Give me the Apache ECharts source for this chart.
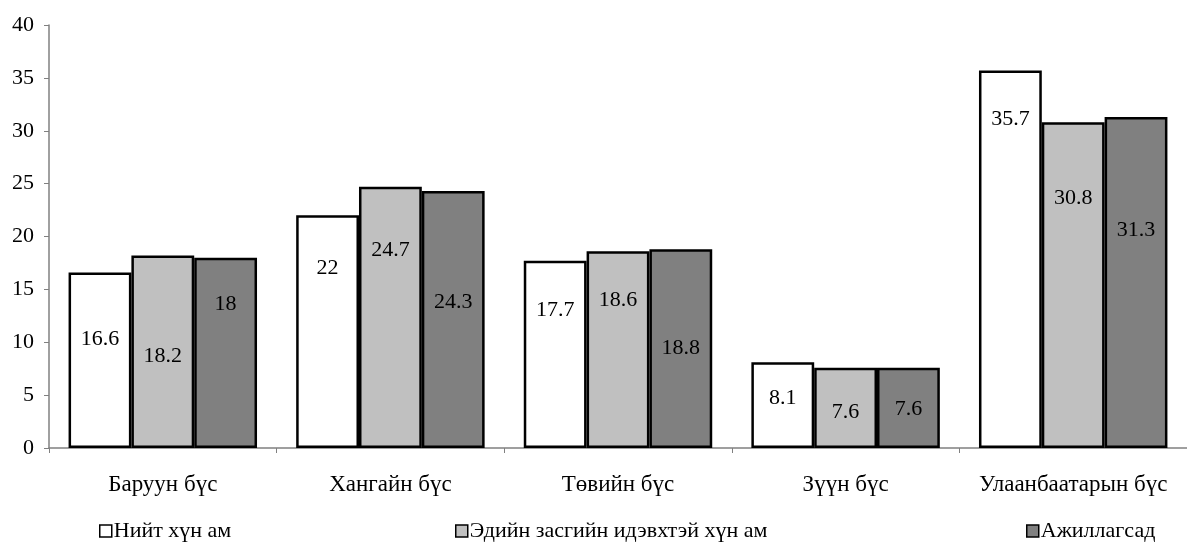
<!DOCTYPE html>
<html>
<head>
<meta charset="utf-8">
<script src="https://cdn.jsdelivr.net/npm/echarts@6/dist/echarts.min.js"></script>
<style>html,body{margin:0;padding:0;background:#fff}#c{width:1187px;height:544px}</style>
</head>
<body>
<div id="c"></div>
<script>
const categories = ['Баруун бүс', 'Хангайн бүс', 'Төвийн бүс', 'Зүүн бүс', 'Улаанбаатарын бүс'];
const seriesNames = ['Нийт хүн ам', 'Эдийн засгийн идэвхтэй хүн ам', 'Ажиллагсад'];
const total = [16.6, 22, 17.7, 8.1, 35.7];
const active = [18.2, 24.7, 18.6, 7.6, 30.8];
const employed = [18, 24.3, 18.8, 7.6, 31.3];
const yTicks = [0, 5, 10, 15, 20, 25, 30, 35, 40];

// label drop (px) below bar top, per bar, as placed in the reference
const labelDrop = [
  [67, 53, 49, 36, 49],
  [101, 63, 49, 45, 76],
  [47, 111, 99, 42, 113]
];

const colors = ['#ffffff', '#c0c0c0', '#808080'];
const FONT = 'Liberation Serif';
const values = [total, active, employed];

const series = values.map((vals, si) => ({
  name: seriesNames[si],
  type: 'bar',
  barGap: '0%',
  barCategoryGap: '17.2%',
  itemStyle: { color: colors[si], borderColor: '#000', borderWidth: 2.5 },
  data: vals.map((v, i) => ({
    value: v,
    label: {
      show: true,
      position: ['50%', labelDrop[si][i]],
      align: 'center',
      verticalAlign: 'middle',
      color: '#000',
      fontFamily: FONT,
      fontSize: 22
    }
  }))
}));

const legendLefts = [99, 455, 1026];
const legends = seriesNames.map((n, i) => ({
  data: [n],
  left: legendLefts[i],
  top: 520,
  padding: 0,
  itemWidth: 12,
  itemHeight: 12,
  itemGap: 0,
  icon: 'rect',
  itemStyle: { borderColor: '#000', borderWidth: 1.5 },
  selectedMode: false,
  textStyle: { fontFamily: FONT, fontSize: 22, color: '#000', padding: [0, 0, 0, -3] }
}));

const chart = echarts.init(document.getElementById('c'), null, { renderer: 'canvas' });
chart.setOption({
  animation: false,
  backgroundColor: '#fff',
  legend: legends,
  grid: { left: 49, top: 25, width: 1148, height: 423, containLabel: false },
  xAxis: {
    type: 'category',
    data: categories,
    axisLine: { lineStyle: { color: '#808080', width: 1.5 } },
    axisTick: { show: true, length: 5, lineStyle: { color: '#808080' } },
    axisLabel: { color: '#000', fontFamily: FONT, fontSize: 23, margin: 25, interval: 0 }
  },
  yAxis: {
    type: 'value',
    min: yTicks[0],
    max: yTicks[yTicks.length - 1],
    interval: 5,
    axisLine: { show: true, lineStyle: { color: '#808080', width: 1.5 } },
    axisTick: { show: true, length: 5, lineStyle: { color: '#808080' } },
    splitLine: { show: false },
    axisLabel: { color: '#000', fontFamily: FONT, fontSize: 22, margin: 15 }
  },
  series: series
});
</script>
</body>
</html>
